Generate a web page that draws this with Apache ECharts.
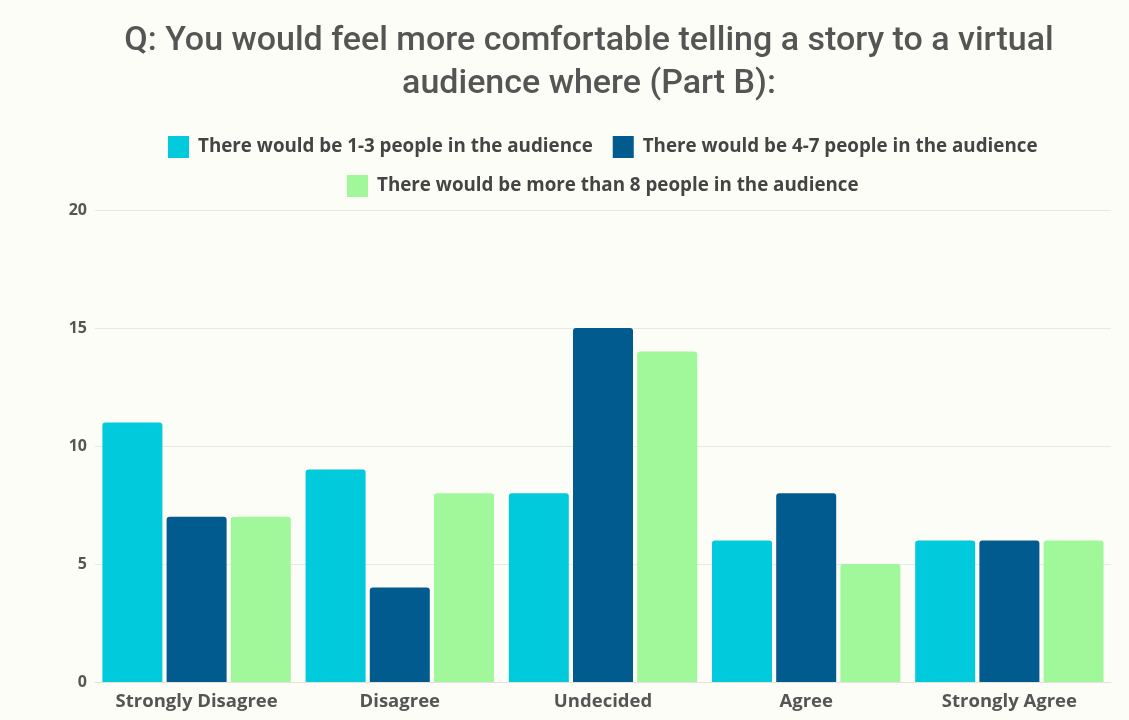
<!DOCTYPE html>
<html>
<head>
<meta charset="utf-8">
<script src="https://cdn.jsdelivr.net/npm/echarts@6/dist/echarts.min.js"></script>
<style>
html,body{margin:0;padding:0;background:#fdfdf7;}
#chart{width:1129px;height:720px;}
</style>
</head>
<body>
<div id="chart"></div>
<script>
const categories = ['Strongly Disagree', 'Disagree', 'Undecided', 'Agree', 'Strongly Agree'];
const seriesNames = [
  'There would be 1-3 people in the audience',
  'There would be 4-7 people in the audience',
  'There would be more than 8 people in the audience'
];
const values13 = [11, 9, 8, 6, 6];
const values47 = [7, 4, 15, 8, 6];
const values8plus = [7, 8, 14, 5, 6];
const yTicks = [0, 5, 10, 15, 20];

const colors = ['#00CADC', '#015B8E', '#A1F89A'];
const allValues = [values13, values47, values8plus];

const chart = echarts.init(document.getElementById('chart'));
const legendText = { fontFamily: 'Open Sans', fontWeight: 'bold', fontSize: 18.8, color: '#444', padding: [0, 0, 0, 4] };
chart.setOption({
  backgroundColor: '#fdfdf7',
  title: {
    text: 'Q: You would feel more comfortable telling a story to a virtual\naudience where (Part B):',
    left: 584,
    textAlign: 'center',
    top: 15,
    textStyle: { fontFamily: 'Roboto', fontWeight: 500, fontSize: 34, color: '#555', lineHeight: 43 }
  },
  legend: [
    {
      data: [seriesNames[0], seriesNames[1]],
      top: 131, left: 163,
      itemWidth: 21, itemHeight: 22, itemGap: 20,
      icon: 'rect',
      textStyle: legendText
    },
    {
      data: [seriesNames[2]],
      top: 170, left: 342,
      itemWidth: 21, itemHeight: 22,
      icon: 'rect',
      textStyle: legendText
    }
  ],
  grid: { left: 95, right: 18, top: 210, bottom: 38, containLabel: false },
  xAxis: {
    type: 'category',
    data: categories,
    axisTick: { show: false },
    axisLine: { lineStyle: { color: '#e2e2da' } },
    axisLabel: { interval: 0, fontFamily: 'Open Sans', fontWeight: 'bold', fontSize: 18.5, color: '#555', margin: 10 }
  },
  yAxis: {
    type: 'value',
    min: yTicks[0], max: yTicks[yTicks.length - 1], interval: 5,
    axisLine: { show: false },
    axisTick: { show: false },
    splitLine: { lineStyle: { color: '#e9e9e2' } },
    axisLabel: { fontFamily: 'Open Sans', fontWeight: 'bold', fontSize: 16, color: '#555', margin: 8 }
  },
  series: seriesNames.map((name, i) => ({
    name: name,
    type: 'bar',
    data: allValues[i],
    barWidth: 60,
    barGap: '7%',
    itemStyle: { color: colors[i], borderRadius: [3, 3, 0, 0] }
  }))
});
</script>
</body>
</html>
